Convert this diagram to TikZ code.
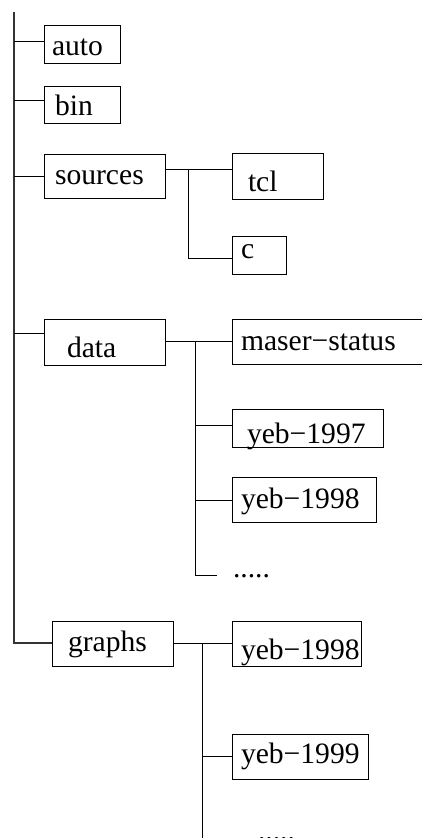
\documentclass[tikz,border=0pt]{standalone}
\usepackage{fontspec}
\setmainfont{Liberation Serif}
\begin{document}
\begin{tikzpicture}[x=1pt,y=-1pt,
  box/.style={draw=black,line width=1pt,inner sep=0pt,outer sep=0pt,anchor=north west},
  lbl/.style={inner sep=0pt,outer sep=0pt,anchor=base west,font=\fontsize{29.6}{32}\selectfont},
  conn/.style={draw=black,line width=1pt},
  trunkline/.style={draw=black!80,line width=1.2pt}]
\useasboundingbox (0,0) rectangle (422,838);
% boxes
\node[box,minimum width=76pt,minimum height=38pt] (auto) at (44,25) {};
\node[box,minimum width=76pt,minimum height=37pt] (bin) at (44,86) {};
\node[box,minimum width=121pt,minimum height=44pt] (sources) at (44,154) {};
\node[box,minimum width=91pt,minimum height=46pt] (tcl) at (232,153) {};
\node[box,minimum width=54pt,minimum height=38pt] (c) at (232,236) {};
\node[box,minimum width=121pt,minimum height=46pt] (data) at (44,319) {};
\node[box,minimum width=191pt,minimum height=45pt] (maser) at (232,319) {};
\node[box,minimum width=151pt,minimum height=38pt] (y97) at (232,409) {};
\node[box,minimum width=144pt,minimum height=45pt] (y98a) at (232,477) {};
\node[box,minimum width=121pt,minimum height=45pt] (graphs) at (52,621) {};
\node[box,minimum width=129pt,minimum height=45pt] (y98b) at (232,621) {};
\node[box,minimum width=136pt,minimum height=45pt] (y99) at (232,734) {};
% labels
\node[lbl] (tauto) at (52,55) {auto};
\node[lbl] (tbin) at (55,115) {bin};
\node[lbl] (tsources) at (55,184) {sources};
\node[lbl] (ttcl) at (248,191) {tcl};
\node[lbl] (tc) at (241,258) {c};
\node[lbl] (tdata) at (67,357) {data};
\node[lbl] (tmaser) at (241,350) {maser−status};
\node[lbl] (ty97) at (247,443) {yeb−1997};
\node[lbl] (ty98a) at (241,508) {yeb−1998};
\node[lbl] (tdots1) at (233,577) {.....};
\node[lbl] (tgraphs) at (68,651) {graphs};
\node[lbl] (ty98b) at (241,659) {yeb−1998};
\node[lbl] (ty99) at (241,763) {yeb−1999};
\node[lbl] (tdots2) at (258,840) {.....};
% trunk
\coordinate (top) at (14,12);
\coordinate (bA) at (14,41);
\coordinate (bB) at (14,100);
\coordinate (bS) at (14,176);
\coordinate (bD) at (14,333);
\coordinate (bG) at (14,643);
\draw[trunkline] (top) -- (bG) -- (graphs.west |- bG);
\draw[conn] (bA) -- (auto.west |- bA);
\draw[conn] (bB) -- (bin.west |- bB);
\draw[conn] (bS) -- (sources.west |- bS);
\draw[conn] (bD) -- (data.west |- bD);
% sources subtree
\coordinate (sv) at (188,169);
\coordinate (svb) at (188,258);
\draw[conn] (sources.east |- sv) -- (tcl.west |- sv);
\draw[conn] (sv) -- (svb) -- (c.west |- svb);
% data subtree
\coordinate (dv) at (195,341);
\coordinate (dv2) at (195,425);
\coordinate (dv3) at (195,500);
\coordinate (dv4) at (195,575);
\coordinate (dend) at (217,575);
\draw[conn] (data.east |- dv) -- (maser.west |- dv);
\draw[conn] (dv) -- (dv4) -- (dend);
\draw[conn] (dv2) -- (y97.west |- dv2);
\draw[conn] (dv3) -- (y98a.west |- dv3);
% graphs subtree
\coordinate (gv) at (202,643);
\coordinate (gv2) at (202,756);
\coordinate (gvend) at (202,842);
\draw[conn] (graphs.east |- gv) -- (y98b.west |- gv);
\draw[conn] (gv) -- (gvend);
\draw[conn] (gv2) -- (y99.west |- gv2);
\end{tikzpicture}
\end{document}
